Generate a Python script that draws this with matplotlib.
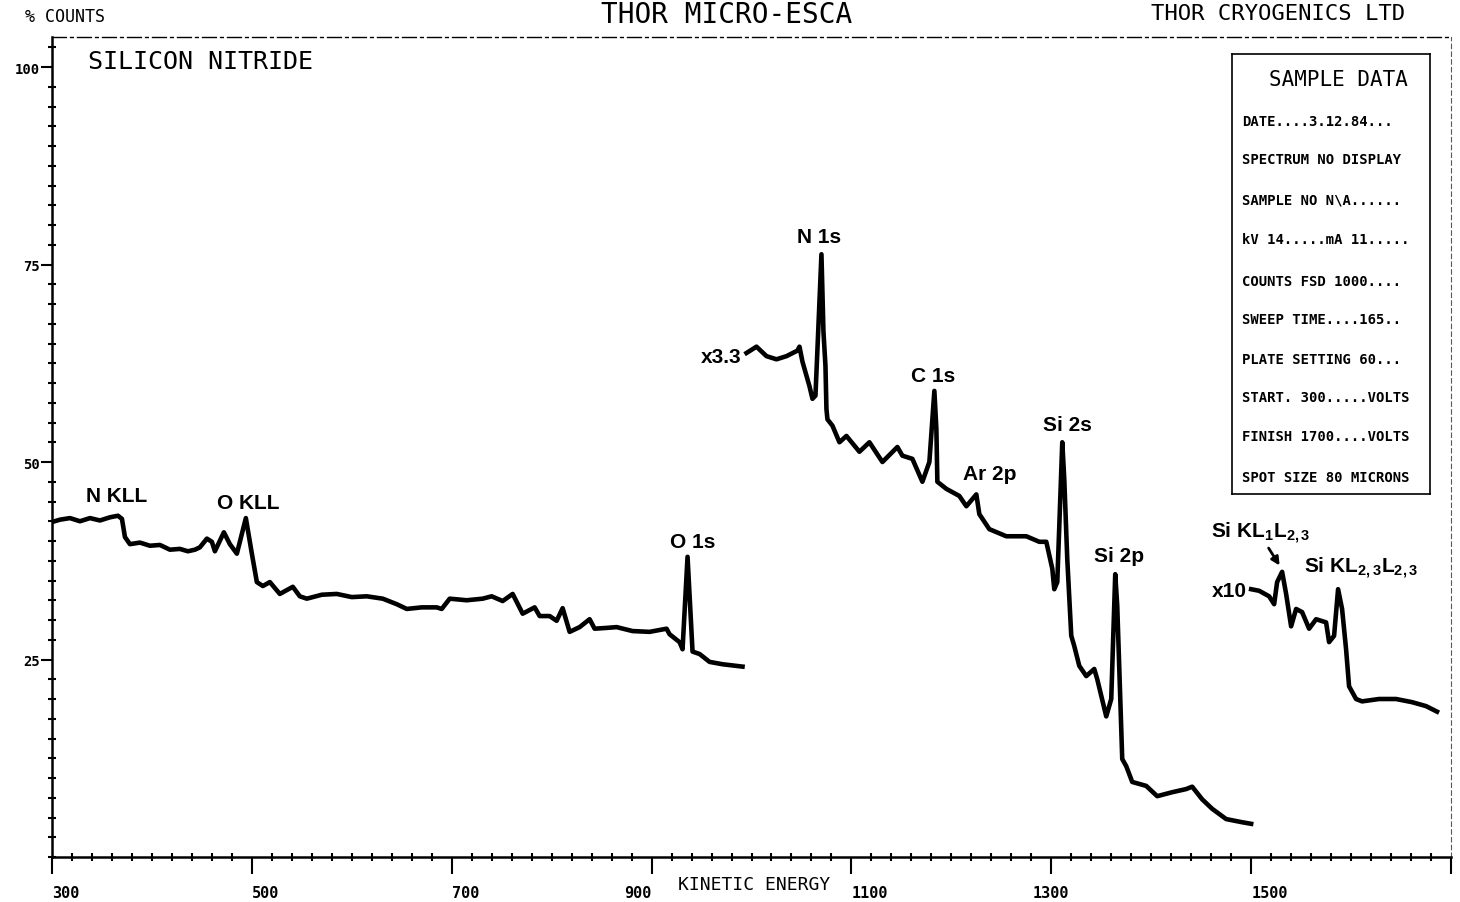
#recreation of an old thor micro-esca survey spectrum of silicon nitride
#the trace is drawn in three pieces because the plotter changed gain (x3.3 and x10)
import matplotlib
matplotlib.use('Agg')
import matplotlib.pyplot as plt
from matplotlib.ticker import MultipleLocator

#first piece, kinetic energy (eV) against % counts, full scale
e1 = [300, 308, 318, 328, 338, 348, 358, 366, 370, 373, 378, 388, 398, 408, 418, 428, 436, 443,
      448, 455, 460, 463, 472, 478, 485, 494, 500, 505, 511, 518, 528, 541, 548, 555, 570, 585,
      600, 615, 631, 645, 655, 670, 685, 690, 698, 715, 731, 740, 751, 761, 771, 783, 788, 798,
      805, 811, 818, 828, 838, 843, 855, 865, 881, 898, 915, 918, 928, 931, 936, 941, 948, 958,
      971, 991]
pct1 = [42.4, 42.7, 42.9, 42.5, 42.9, 42.6, 43.0, 43.2, 42.8, 40.5, 39.6, 39.8, 39.4, 39.5, 38.9, 39.0, 38.7, 38.9,
        39.2, 40.3, 39.9, 38.7, 41.1, 39.6, 38.4, 42.9, 38.4, 34.8, 34.3, 34.8, 33.3, 34.2, 33.0, 32.7, 33.2, 33.3,
        32.9, 33.0, 32.7, 32.0, 31.4, 31.6, 31.6, 31.4, 32.7, 32.5, 32.7, 33.0, 32.4, 33.3, 30.8, 31.6, 30.5, 30.5,
        29.9, 31.5, 28.5, 29.1, 30.1, 28.9, 29.0, 29.1, 28.6, 28.5, 28.9, 28.2, 27.2, 26.3, 38.0, 26.0, 25.7, 24.7,
        24.4, 24.1]

#second piece, x3.3
e2 = [995, 1005, 1015, 1025, 1035, 1046, 1048, 1051, 1058, 1061, 1064, 1066, 1070, 1072, 1074, 1075, 1076, 1081,
      1088, 1095, 1108, 1118, 1131, 1146, 1151, 1161, 1171, 1178, 1183, 1185, 1186, 1195, 1208, 1215, 1225, 1228,
      1238, 1255, 1275, 1288, 1295, 1301, 1303, 1306, 1311, 1313, 1316, 1320, 1323, 1328, 1335, 1343, 1346, 1355,
      1360, 1364, 1366, 1371, 1375, 1381, 1395, 1406, 1421, 1435, 1441, 1451, 1461, 1475, 1491, 1500]
pct2 = [63.8, 64.6, 63.4, 63.0, 63.4, 64.1, 64.6, 62.7, 59.6, 58.0, 58.4, 64.3, 76.3, 66.5, 62.2, 56.7, 55.4, 54.6,
        52.5, 53.3, 51.3, 52.5, 50.0, 51.9, 50.8, 50.4, 47.5, 50.0, 59.0, 54.2, 47.5, 46.6, 45.7, 44.4, 45.9, 43.4,
        41.5, 40.6, 40.6, 39.9, 39.9, 36.5, 33.9, 34.8, 52.5, 47.8, 37.7, 28.0, 26.7, 24.2, 22.9, 23.8, 22.5, 17.8,
        20.0, 35.8, 31.8, 12.4, 11.5, 9.5, 9.0, 7.7, 8.2, 8.6, 8.9, 7.3, 6.1, 4.8, 4.4, 4.2]

#third piece, x10
e3 = [1500, 1508, 1518, 1523, 1526, 1531, 1535, 1540, 1545, 1551, 1558, 1565, 1575, 1578, 1583, 1587, 1591, 1595,
      1598, 1605, 1611, 1628, 1645, 1661, 1675, 1686]
pct3 = [33.9, 33.7, 33.0, 32.0, 34.8, 36.1, 33.3, 29.2, 31.4, 31.0, 28.9, 30.1, 29.7, 27.2, 28.0, 33.9, 31.4, 26.3,
        21.6, 20.0, 19.7, 20.0, 20.0, 19.6, 19.1, 18.4]

#peak labels
peak_names = ['N KLL', 'O KLL', 'O 1s', 'N 1s', 'C 1s', 'Ar 2p', 'Si 2s', 'Si 2p']
peak_e = [365, 496, 941, 1068, 1182, 1238, 1316, 1368]
peak_pct = [45.8, 44.9, 40.0, 78.5, 61.0, 48.5, 54.8, 38.2]

gain_names = ['x3.3', 'x10']
gain_e = [990, 1496]
gain_pct = [63.4, 33.7]

xtick_vals = [300, 500, 700, 900, 1100, 1300, 1500, 1700]
xtick_text = ['300', '500', '700', '900', '1100', '1300', '1500', '']
ytick_vals = [25, 50, 75, 100]

sample_rows = ['DATE....3.12.84...',
               'SPECTRUM NO DISPLAY',
               'SAMPLE NO N\\A......',
               'kV 14.....mA 11.....',
               'COUNTS FSD 1000....',
               'SWEEP TIME....165..',
               'PLATE SETTING 60...',
               'START. 300.....VOLTS',
               'FINISH 1700....VOLTS',
               'SPOT SIZE 80 MICRONS']

plotter = 'DejaVu Sans Mono'
labelfont = 'Liberation Sans'

plt.rcParams['mathtext.fontset'] = 'custom'
plt.rcParams['mathtext.rm'] = 'Liberation Sans:bold'
plt.rcParams['mathtext.it'] = 'Liberation Sans:bold'
plt.rcParams['mathtext.bf'] = 'Liberation Sans:bold'

W, H = 1460, 903
fig = plt.figure(figsize=(W/100, H/100), dpi=100)
fig.patch.set_facecolor('white')
ax = fig.add_axes([52/W, 1-858/H, (1451-52)/W, (858-38)/H])

for e, p in [(e1, pct1), (e2, pct2), (e3, pct3)]:
	ax.plot(e, p, color='black', lw=3.3, solid_joinstyle='round')

ax.set_xlim(300, 1700)
ax.set_ylim(0, 103.8)

#axes look like the pen plotter frame
ax.spines['left'].set_linewidth(1.8)
ax.spines['bottom'].set_linewidth(1.8)
ax.spines['top'].set_linewidth(1.0)
ax.spines['top'].set_linestyle((0, (10, 3, 2, 3)))
ax.spines['right'].set_linewidth(0.8)
ax.spines['right'].set_linestyle((0, (4, 3)))
ax.spines['right'].set_color('0.35')

ax.set_xticks(xtick_vals)
ax.set_xticklabels(xtick_text, fontfamily=plotter, fontsize=11, fontweight='bold')
ax.xaxis.set_minor_locator(MultipleLocator(20))
ax.set_yticks(ytick_vals)
ax.set_yticklabels([str(v) for v in ytick_vals], fontfamily=plotter, fontsize=10, fontweight='bold')
ax.yaxis.set_minor_locator(MultipleLocator(2.5))
ax.tick_params(axis='x', which='major', direction='out', length=12, width=1.5, pad=8)
ax.tick_params(axis='y', which='major', direction='out', length=8, width=1.5, pad=1)
ax.tick_params(which='minor', direction='inout', length=6, width=1.5)
ax.tick_params(top=False, right=False)

for lab, ha in zip(ax.get_xticklabels(), ['left', 'left', 'left', 'right', 'left', 'center', 'left', 'left']):
	lab.set_ha(ha)

for name, x, y in zip(peak_names, peak_e, peak_pct):
	ax.text(x, y, name, ha='center', va='center', fontfamily=labelfont, fontweight='bold', fontsize=15)
for name, x, y in zip(gain_names, gain_e, gain_pct):
	ax.text(x, y, name, ha='right', va='center', fontfamily=labelfont, fontweight='bold', fontsize=15)

ax.text(1460, 41.1, r'Si KL$_1$L$_{2,3}$', ha='left', va='center', fontfamily=labelfont, fontweight='bold', fontsize=15)
ax.text(1553, 36.7, r'Si KL$_{2,3}$L$_{2,3}$', ha='left', va='center', fontfamily=labelfont, fontweight='bold', fontsize=15)
ax.annotate('', xy=(1530, 36.6), xytext=(1516, 39.4),
            arrowprops=dict(arrowstyle='-|>', lw=2, color='black', mutation_scale=12))

ax.text(336, 100.8, 'SILICON NITRIDE', ha='left', va='center', fontfamily=plotter, fontsize=18)

#header and footer text of the plotter sheet
fig.text(25/W, 1-17/H, '% COUNTS', ha='left', va='center', fontfamily=plotter, fontsize=12)
fig.text(727/W, 1-15/H, 'THOR MICRO-ESCA', ha='center', va='center', fontfamily=plotter, fontsize=20)
fig.text(1278/W, 1-14/H, 'THOR CRYOGENICS LTD', ha='center', va='center', fontfamily=plotter, fontsize=16)
fig.text(678/W, 1-885/H, 'KINETIC ENERGY', ha='left', va='center', fontfamily=plotter, fontsize=13)

#sample data box
box = fig.add_axes([1232/W, 1-495/H, 198/W, 440/H])
box.set_xticks([])
box.set_yticks([])
for s in box.spines.values():
	s.set_linewidth(1.2)
box.patch.set_alpha(0)
box.text(0.54, (495-80)/440, 'SAMPLE DATA', ha='center', va='center', fontfamily=plotter, fontsize=15)
row_y = [122, 160, 200, 240, 282, 320, 360, 398, 437, 478]
for txt, py in zip(sample_rows, row_y):
	box.text(0.05, (495-py)/440, txt, ha='left', va='center', fontfamily=plotter, fontsize=10, fontweight='bold')

fig.savefig('out.png', dpi=100)
